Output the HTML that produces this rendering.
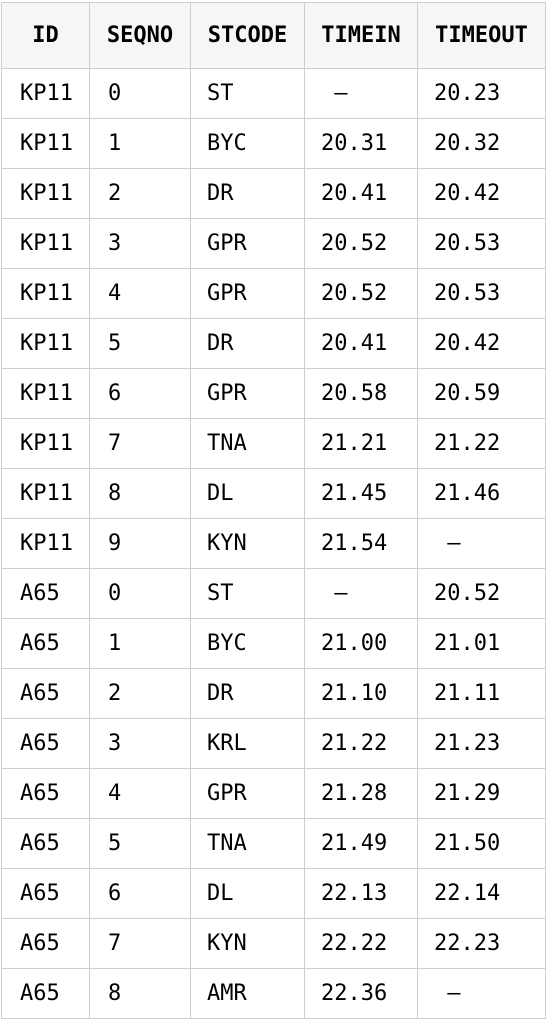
<!DOCTYPE html>
<html><head><meta charset="utf-8"><style>
html,body{margin:0;padding:0;background:#fff;width:546px;height:1022px;overflow:hidden}
table{position:absolute;left:1px;top:2px;border-collapse:collapse;table-layout:fixed;font-family:"DejaVu Sans Mono","Liberation Mono",monospace;font-size:22px;color:#000}
td,th{border:1px solid #cfcfcf;padding:0 0 0 18px;text-align:left;white-space:pre;height:49px;vertical-align:middle}
td:nth-child(n+3){padding-left:16px}
th{height:65px;background:#f6f6f6;font-weight:bold;text-align:center;padding:0}
</style></head><body>
<table>
<colgroup><col style="width:88px"><col style="width:101px"><col style="width:114px"><col style="width:113px"><col style="width:128px"></colgroup>
<thead><tr><th>ID</th><th>SEQNO</th><th>STCODE</th><th>TIMEIN</th><th>TIMEOUT</th></tr></thead>
<tbody>
<tr><td>KP11</td><td>0</td><td>ST</td><td> –</td><td>20.23</td></tr>
<tr><td>KP11</td><td>1</td><td>BYC</td><td>20.31</td><td>20.32</td></tr>
<tr><td>KP11</td><td>2</td><td>DR</td><td>20.41</td><td>20.42</td></tr>
<tr><td>KP11</td><td>3</td><td>GPR</td><td>20.52</td><td>20.53</td></tr>
<tr><td>KP11</td><td>4</td><td>GPR</td><td>20.52</td><td>20.53</td></tr>
<tr><td>KP11</td><td>5</td><td>DR</td><td>20.41</td><td>20.42</td></tr>
<tr><td>KP11</td><td>6</td><td>GPR</td><td>20.58</td><td>20.59</td></tr>
<tr><td>KP11</td><td>7</td><td>TNA</td><td>21.21</td><td>21.22</td></tr>
<tr><td>KP11</td><td>8</td><td>DL</td><td>21.45</td><td>21.46</td></tr>
<tr><td>KP11</td><td>9</td><td>KYN</td><td>21.54</td><td> –</td></tr>
<tr><td>A65</td><td>0</td><td>ST</td><td> –</td><td>20.52</td></tr>
<tr><td>A65</td><td>1</td><td>BYC</td><td>21.00</td><td>21.01</td></tr>
<tr><td>A65</td><td>2</td><td>DR</td><td>21.10</td><td>21.11</td></tr>
<tr><td>A65</td><td>3</td><td>KRL</td><td>21.22</td><td>21.23</td></tr>
<tr><td>A65</td><td>4</td><td>GPR</td><td>21.28</td><td>21.29</td></tr>
<tr><td>A65</td><td>5</td><td>TNA</td><td>21.49</td><td>21.50</td></tr>
<tr><td>A65</td><td>6</td><td>DL</td><td>22.13</td><td>22.14</td></tr>
<tr><td>A65</td><td>7</td><td>KYN</td><td>22.22</td><td>22.23</td></tr>
<tr><td>A65</td><td>8</td><td>AMR</td><td>22.36</td><td> –</td></tr>
</tbody></table>
</body></html>
